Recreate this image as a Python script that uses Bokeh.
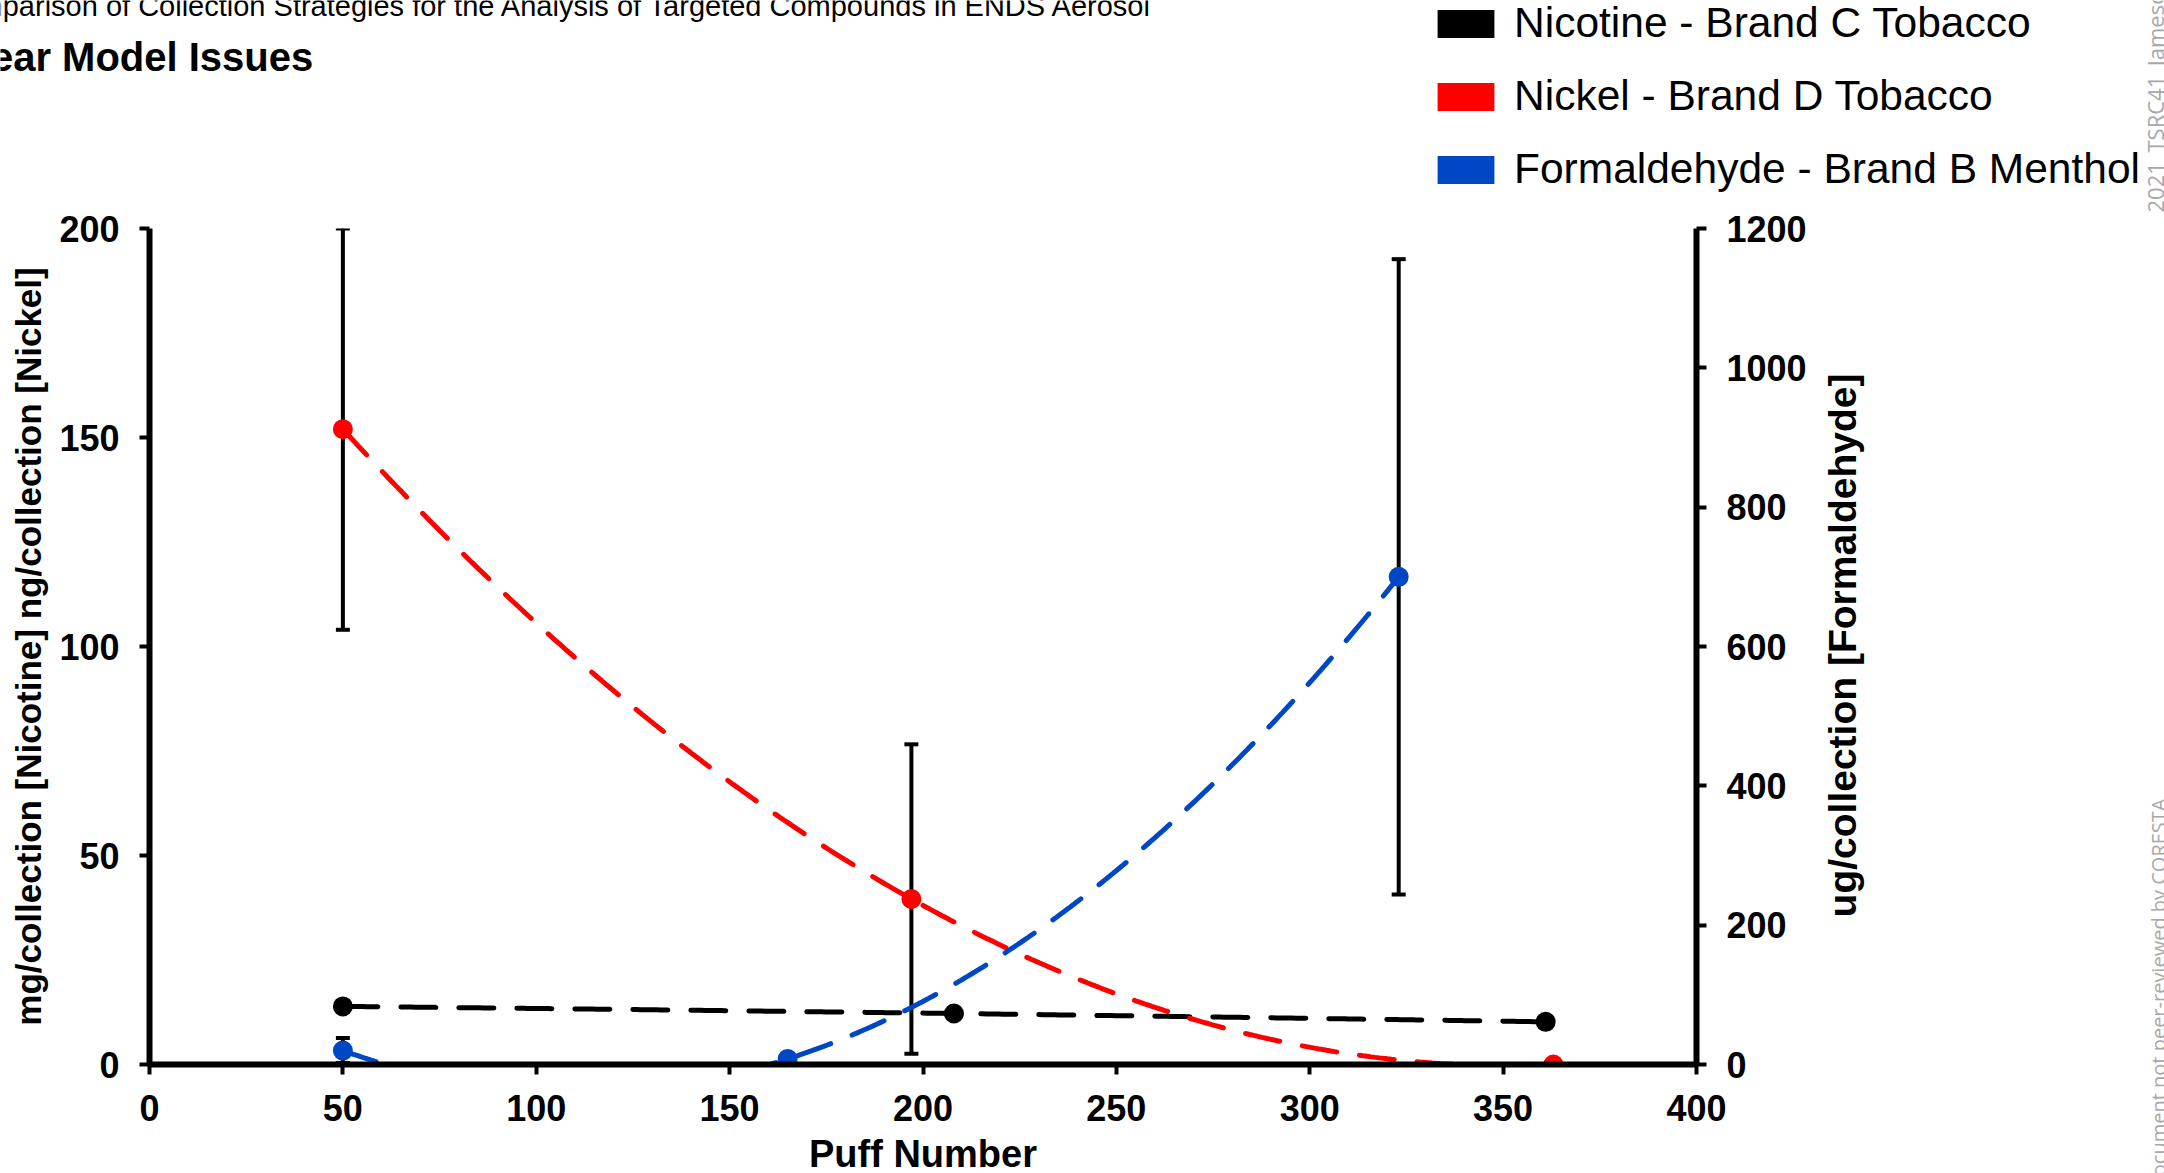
import math
import numpy as np
from bokeh.plotting import figure
from bokeh.layouts import column, row
from bokeh.models import (Range1d, LinearAxis, Whisker, TeeHead, ColumnDataSource,
                          Legend, LegendItem, Label, FixedTicker)
from bokeh.embed import file_html
from bokeh.resources import INLINE

# ---------------- data ----------------
nic_x = [50, 208, 361]
nic_y = [13.9, 12.2, 10.2]

ni_x = [50, 197, 363]
ni_y = [152.0, 39.6, 0.0]
ni_err = [48.0, 37.0, 0.0]

form_x = [50, 165, 323]
form_y = [20.0, 8.0, 700.0]
form_err = [18.0, 0.0, 456.0]

x_ticks = [0, 50, 100, 150, 200, 250, 300, 350, 400]
left_ticks = [0, 50, 100, 150, 200]
right_ticks = [0, 200, 400, 600, 800, 1000, 1200]

series_names = ["Nicotine - Brand C Tobacco", "Nickel - Brand D Tobacco",
                "Formaldehyde - Brand B Menthol"]
header_1 = "Comparison of Collection Strategies for the Analysis of Targeted Compounds in ENDS Aerosol"
header_2 = "Nonlinear Model Issues"
x_title = "Puff Number"
left_title = "mg/collection [Nicotine] ng/collection [Nickel]"
right_title = "ug/collection [Formaldehyde]"
mark_top = "2021_TSRC41_Jameson"
mark_bottom = "Document not peer-reviewed by CORESTA"

BLACK, RED, BLUE = "#000000", "#FF0000", "#0047C6"
GREY = "#a8a8a8"
FONT = "Liberation Sans"

TOP_H = 212


def blank_fig(w, h):
    f = figure(width=w, height=h, output_backend="svg", toolbar_location=None,
               x_range=Range1d(0, 1), y_range=Range1d(0, 1), min_border=0,
               x_axis_location=None, y_axis_location=None)
    f.outline_line_color = None
    f.xgrid.visible = False
    f.ygrid.visible = False
    f.title.visible = False
    f.background_fill_color = "white"
    f.border_fill_color = "white"
    return f


# ---------------- header strip (titles + legend) ----------------
top = blank_fig(2164, TOP_H)
top.add_layout(Label(x=-59, y=TOP_H - 5, x_units="screen", y_units="screen",
                     text=header_1, text_font=FONT, text_font_size="29px", text_color="black",
                     text_baseline="alphabetic", text_align="left"))
top.add_layout(Label(x=-134, y=TOP_H - 56, x_units="screen", y_units="screen",
                     text=header_2, text_font=FONT, text_font_style="bold",
                     text_font_size="40px", text_color="black",
                     text_baseline="alphabetic", text_align="left"))
top.add_layout(Label(x=2154, y=0, x_units="screen", y_units="screen", angle=math.pi / 2,
                     text=mark_top, text_font="Open Sans", text_font_size="22px",
                     text_color=GREY, text_baseline="middle", text_align="left"))
leg_renderers = []
for c in (BLACK, RED, BLUE):
    # one off-frame point so the legend has something to draw its swatch from
    r = top.rect(x="x", y="y", width=0.01, height=0.01, fill_color=c, line_color=None,
                 source=ColumnDataSource(dict(x=[-5.0], y=[-5.0])))
    leg_renderers.append(r)
legend = Legend(items=[LegendItem(label=n, renderers=[r]) for n, r in zip(series_names, leg_renderers)],
                location=(1430, TOP_H - 193), glyph_width=71, glyph_height=35,
                label_text_font=FONT, label_text_font_size="42.5px", label_text_color="black",
                label_standoff=13, spacing=25, padding=0, margin=0,
                border_line_color=None, background_fill_alpha=0)
top.add_layout(legend)

# ---------------- main chart ----------------
p = figure(frame_width=1547, frame_height=836, output_backend="svg", toolbar_location=None,
           x_range=Range1d(0, 400), y_range=Range1d(0, 200),
           min_border_left=149, min_border_right=124, min_border_top=228 - TOP_H,
           min_border_bottom=109, x_axis_location=None, y_axis_location=None)
p.extra_y_ranges = {"form": Range1d(0, 1200)}
p.outline_line_color = None
p.xgrid.visible = False
p.ygrid.visible = False
p.title.visible = False
p.background_fill_color = "white"
p.border_fill_color = "white"


def style_axis(ax, standoff, label_size, label_standoff):
    ax.axis_line_width = 6
    ax.axis_line_color = "black"
    ax.major_tick_line_width = 4
    ax.major_tick_out = 10
    ax.major_tick_in = 0
    ax.minor_tick_out = 0
    ax.minor_tick_in = 0
    ax.major_label_text_font = FONT
    ax.major_label_text_font_style = "bold"
    ax.major_label_text_font_size = "36px"
    ax.major_label_text_color = "black"
    ax.major_label_standoff = standoff
    ax.axis_label_text_font = FONT
    ax.axis_label_text_font_style = "bold"
    ax.axis_label_text_font_size = label_size
    ax.axis_label_text_color = "black"
    ax.axis_label_standoff = label_standoff


xaxis = LinearAxis(ticker=FixedTicker(ticks=x_ticks), axis_label=x_title)
style_axis(xaxis, 20, "38px", 9)
p.add_layout(xaxis, "below")

yaxis = LinearAxis(ticker=FixedTicker(ticks=left_ticks), axis_label=left_title)
style_axis(yaxis, 20, "35px", 8)
p.add_layout(yaxis, "left")

raxis = LinearAxis(y_range_name="form", ticker=FixedTicker(ticks=right_ticks))
style_axis(raxis, 20, "37px", 12)
p.add_layout(raxis, "right")


def fit_curve(xs, ys):
    coef = np.polyfit(xs, ys, 2)
    xx = np.linspace(min(xs), max(xs), 300)
    return xx, np.polyval(coef, xx)


ni_src = ColumnDataSource(dict(x=ni_x, up=[y + e for y, e in zip(ni_y, ni_err)],
                               lo=[y - e for y, e in zip(ni_y, ni_err)]))
fo_src = ColumnDataSource(dict(x=form_x, up=[y + e for y, e in zip(form_y, form_err)],
                               lo=[y - e for y, e in zip(form_y, form_err)]))
for src, rng in ((ni_src, "default"), (fo_src, "form")):
    w = Whisker(base="x", upper="up", lower="lo", source=src, y_range_name=rng,
                line_color="black", line_width=4, level="underlay",
                upper_head=TeeHead(size=14, line_width=4, line_color="black"),
                lower_head=TeeHead(size=14, line_width=4, line_color="black"))
    p.add_layout(w)

DASH = "35 23"
cx, cy = fit_curve(nic_x, nic_y)
p.line(cx, cy, line_color=BLACK, line_width=5, line_dash=DASH, line_cap="round")
cx, cy = fit_curve(ni_x, ni_y)
p.line(cx, cy, line_color=RED, line_width=5, line_dash=DASH, line_cap="round")
cx, cy = fit_curve(form_x, form_y)
p.line(cx, cy, line_color=BLUE, line_width=5, line_dash=DASH, line_cap="round",
       y_range_name="form")

p.scatter(nic_x, nic_y, size=20, fill_color=BLACK, line_color=None)
p.scatter(ni_x, ni_y, size=20, fill_color=RED, line_color=None)
p.scatter(form_x, form_y, size=20, fill_color=BLUE, line_color=None, y_range_name="form")

# ---------------- right strip (right axis title + watermark) ----------------
MAIN_W = 149 + 1547 + 124
MAIN_H = (228 - TOP_H) + 836 + 109
side = blank_fig(2164 - MAIN_W, MAIN_H)
side.add_layout(Label(x=1842 - MAIN_W, y=MAIN_H - (645 - TOP_H), x_units="screen", y_units="screen",
                      angle=math.pi / 2, text=right_title, text_font=FONT, text_font_style="bold",
                      text_font_size="39px", text_color="black",
                      text_baseline="middle", text_align="center"))
side.add_layout(Label(x=2158 - MAIN_W, y=MAIN_H - (798 - TOP_H), x_units="screen", y_units="screen",
                      angle=math.pi / 2, text=mark_bottom, text_font="Open Sans",
                      text_font_size="20px", text_color=GREY,
                      text_baseline="middle", text_align="right"))

layout = column(top, row(p, column(side, spacing=0), spacing=0), spacing=0)
open("out.html", "w").write(file_html(layout, INLINE))
